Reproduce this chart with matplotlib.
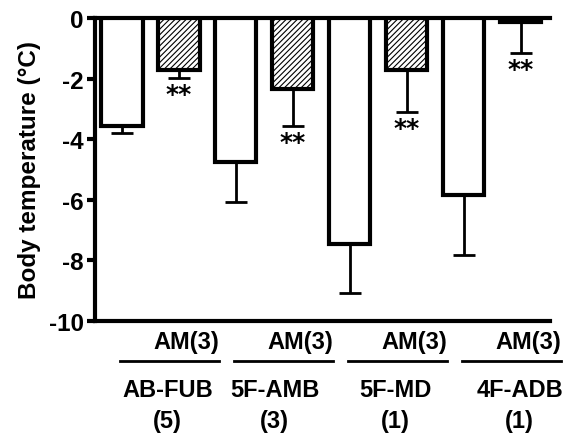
import matplotlib
matplotlib.use("Agg")
import matplotlib.pyplot as plt
from matplotlib.lines import Line2D
from matplotlib.transforms import blended_transform_factory

plt.rcParams['font.family'] = ['Liberation Sans', 'DejaVu Sans']
plt.rcParams['font.weight'] = 'bold'
plt.rcParams['hatch.linewidth'] = 0.8

# Body temperature change (mean, SEM) for each compound alone and with AM
groups = ['AB-FUB', '5F-AMB', '5F-MD', '4F-ADB']
group_n = ['(5)', '(3)', '(1)', '(1)']
am_label = 'AM(3)'
alone_mean = [-3.55, -4.74, -7.47, -5.85]
alone_sem = [0.23, 1.32, 1.61, 1.98]
am_mean = [-1.71, -2.34, -1.71, -0.12]
am_sem = [0.27, 1.21, 1.38, 1.03]
am_sig = ['**', '**', '**', '**']
yticks = [0, -2, -4, -6, -8, -10]

fig = plt.figure(figsize=(5.73, 4.35), dpi=100)
ax = fig.add_axes([0.1658, 0.2598, 0.794, 0.6966])

bar_w = 0.72
lw_bar = 3.0
for g in range(len(groups)):
    xa = 2 * g
    xb = 2 * g + 1
    ax.bar(xa, alone_mean[g], width=bar_w, color='white', edgecolor='black',
           linewidth=lw_bar, zorder=3)
    ax.bar(xb, am_mean[g], width=bar_w, color='white', edgecolor='black',
           hatch='//////', linewidth=lw_bar, zorder=3)
    ax.errorbar(xa, alone_mean[g], yerr=[[alone_sem[g]], [0]], fmt='none',
                ecolor='black', elinewidth=2.0, capsize=8, capthick=2.0, zorder=2)
    ax.errorbar(xb, am_mean[g], yerr=[[am_sem[g]], [0]], fmt='none',
                ecolor='black', elinewidth=2.0, capsize=8, capthick=2.0, zorder=2)
    ax.annotate(am_sig[g], xy=(xb, am_mean[g] - am_sem[g]), xytext=(0, -3),
                textcoords='offset points', ha='center', va='top',
                fontsize=18, fontweight='bold', family='DejaVu Sans')

ax.set_xlim(-0.474, 7.51)
ax.set_ylim(-10, 0)
ax.set_yticks(yticks)
ax.set_yticklabels([str(t) for t in yticks])
ax.set_xticks([])
ax.tick_params(axis='y', direction='out', length=6, width=3, labelsize=17.5, pad=2)
for lab in ax.get_yticklabels():
    lab.set_fontweight('bold')
for side in ['left', 'top', 'bottom']:
    ax.spines[side].set_linewidth(3)
ax.spines['right'].set_visible(False)
ax.set_ylabel('Body temperature (°C)', fontsize=17.5, fontweight='bold', labelpad=6)

# two-row category labels beneath the axis
tr = blended_transform_factory(ax.transData, fig.transFigure)
name_offset = [0.80, 0.68, 0.79, 0.98]
for g in range(len(groups)):
    x0 = 2 * g - 0.04
    x1 = x0 + 1.75
    fig.add_artist(Line2D([x0, x1], [0.1678, 0.1678], transform=tr,
                          color='black', linewidth=2.0, clip_on=False))
    fig.text(x1, 0.2115, am_label, transform=tr, ha='right', va='center',
             fontsize=17, fontweight='bold')
    xn = 2 * g + name_offset[g]
    fig.text(xn, 0.1034, groups[g], transform=tr, ha='center', va='center',
             fontsize=17, fontweight='bold')
    fig.text(xn, 0.0299, group_n[g], transform=tr, ha='center', va='center',
             fontsize=17, fontweight='bold')

fig.savefig('out.png', dpi=100)
